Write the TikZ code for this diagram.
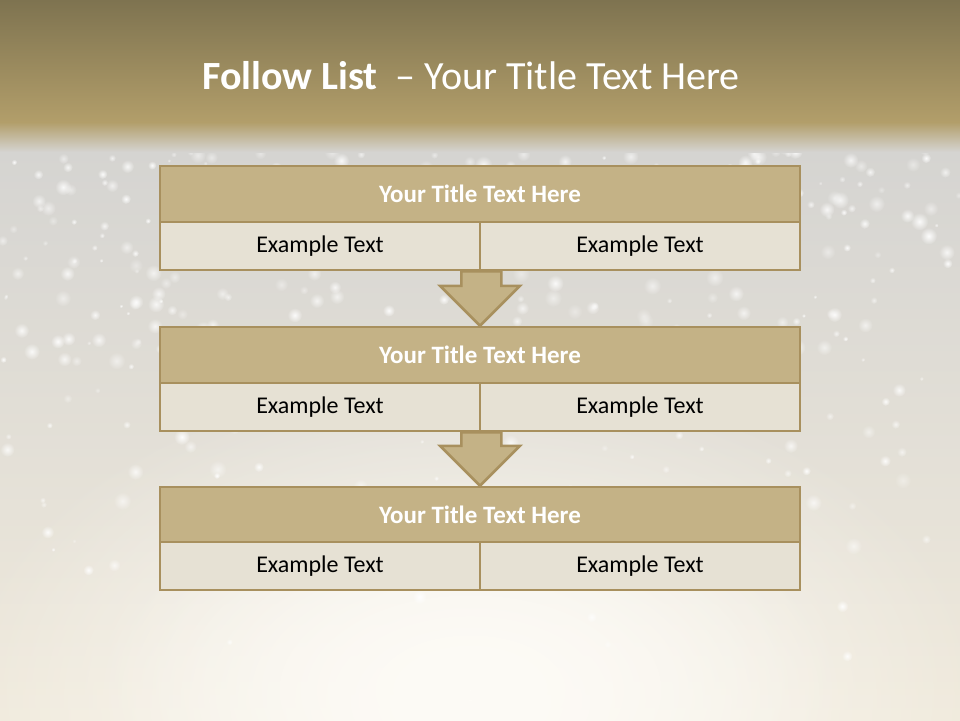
\documentclass[tikz,border=0pt]{standalone}
\usepackage{fontspec}
\setmainfont{Carlito}
\usetikzlibrary{calc,fadings}
\tikzfading[name=glow, inner color=transparent!0, outer color=transparent!100]
\definecolor{bgtop}{RGB}{213,212,209}
\definecolor{bgbot}{RGB}{240,234,220}
\definecolor{bgw}{RGB}{253,251,246}
\definecolor{hdtop}{RGB}{126,115,80}
\definecolor{hdbot}{RGB}{178,158,106}
\definecolor{goldfill}{RGB}{196,178,134}
\definecolor{cellfill}{RGB}{230,225,212}
\definecolor{goldline}{RGB}{168,144,94}
\tikzset{
  ttlbox/.style={draw=goldline, line width=2.5pt, fill=goldfill, minimum width=640pt, minimum height=56pt,
    inner sep=0pt, text=white, font=\fontsize{25}{29}\selectfont\bfseries},
  cellbox/.style={draw=goldline, line width=2.5pt, fill=cellfill, minimum width=320pt, minimum height=48pt,
    inner sep=0pt, text=black, font=\fontsize{24}{28}\selectfont},
  blockarrow/.style={draw=goldline, line width=2.5pt, fill=goldfill, line join=miter},
  sparkle/.style={fill=white, path fading=glow}
}
\begin{document}
\begin{tikzpicture}[x=1pt,y=-1pt]
\useasboundingbox (0,0) rectangle (960,720);
% background
\shade[top color=bgtop, bottom color=bgbot] (0,150) rectangle (960,720);
\begin{scope}
\clip (0,0) rectangle (960,720);
\fill[bgw, path fading=glow] (470,700) ellipse (520 and 330);
\fill[bgw, path fading=glow] (470,690) ellipse (380 and 220);
\end{scope}
% sparkles
\pgfmathsetseed{4242}
\foreach \i in {1,...,420}{
  \pgfmathsetmacro\sx{rnd*960}
  \pgfmathsetmacro\sy{135+rnd*rnd*560}
  \pgfmathsetmacro\sr{2+rnd*7}
  \pgfmathsetmacro\so{0.35+rnd*0.6}
  \fill[sparkle, opacity=\so] (\sx,\sy) circle (\sr);
}
% header band
\shade[top color=hdtop, bottom color=hdbot] (0,0) rectangle (960,122);
\shade[top color=hdbot, bottom color=bgtop] (0,122) rectangle (960,152);
\node[text=white, font=\fontsize{40}{46}\selectfont, anchor=center] (title) at (471,76)
  {\textbf{Follow List}\hspace{0.45em}– Your Title Text Here};
% box 1
\node[ttlbox] (t1) at (480,194) {Your Title Text Here};
\node[cellbox] (c1a) at (320,246) {Example Text};
\node[cellbox] (c1b) at (640,246) {Example Text};
% box 2
\node[ttlbox] (t2) at (480,355) {Your Title Text Here};
\node[cellbox] (c2a) at (320,407) {Example Text};
\node[cellbox] (c2b) at (640,407) {Example Text};
% box 3
\node[ttlbox] (t3) at (480,515) {Your Title Text Here};
\node[cellbox] (c3a) at (320,566) {Example Text};
\node[cellbox] (c3b) at (640,566) {Example Text};
% arrows
\draw[blockarrow] ($(c1a.south east)+(-20,0)$) |- ($(t2.north)+(-40,-40)$) -- (t2.north)
  -- ($(t2.north)+(40,-40)$) -| ($(c1a.south east)+(20,0)$) -- cycle;
\draw[blockarrow] ($(c2a.south east)+(-20,0)$) |- ($(t3.north)+(-40,-40)$) -- (t3.north)
  -- ($(t3.north)+(40,-40)$) -| ($(c2a.south east)+(20,0)$) -- cycle;
\end{tikzpicture}
\end{document}
